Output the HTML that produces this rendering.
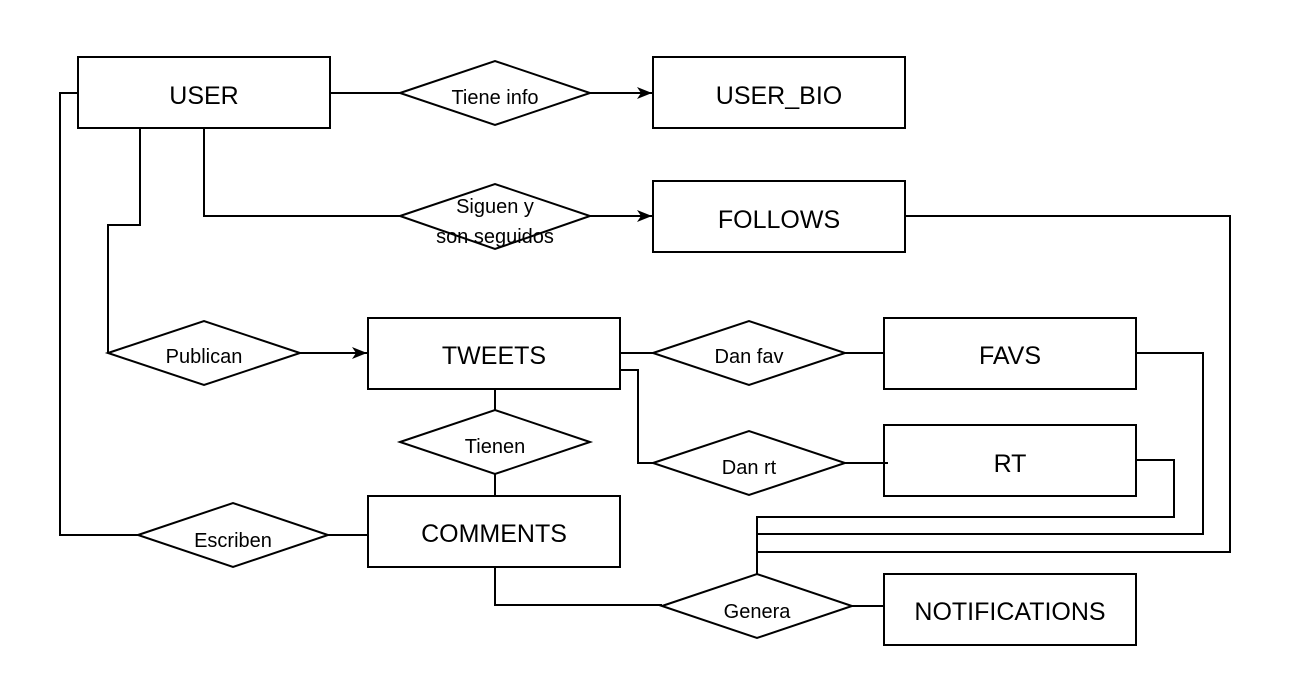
<!DOCTYPE html>
<html><head><meta charset="utf-8"><style>
html,body{margin:0;padding:0;background:#fff;}
svg{display:block;}
text{font-family:"Liberation Sans",Arial,sans-serif;fill:#000;}
.b{font-size:25px;}
.d{font-size:20px;}
</style></head><body>
<svg width="1291" height="699" viewBox="0 0 1291 699" xmlns="http://www.w3.org/2000/svg">
<defs><marker id="a" markerWidth="16" markerHeight="14" refX="15" refY="7" orient="auto" markerUnits="userSpaceOnUse"><path d="M0,1 L15,7 L0,13 L4,7 z" fill="#000"/></marker></defs>
<g fill="none" stroke="#000" stroke-width="2">
<path d="M330,93 H400"/>
<path d="M590,93 H652" marker-end="url(#a)"/>
<path d="M204,128 V216 H400"/>
<path d="M590,216 H652" marker-end="url(#a)"/>
<path d="M140,128 V225 H108 V353"/>
<path d="M300,353 H367" marker-end="url(#a)"/>
<path d="M620,353 H653"/>
<path d="M845,353 H884"/>
<path d="M620,370 H638 V463 H653"/>
<path d="M845,463 H888"/>
<path d="M495,389 V410"/>
<path d="M495,474 V496"/>
<path d="M328,535 H368"/>
<path d="M138,535 H60 V93 H78"/>
<path d="M495,567 V605 H662"/>
<path d="M852,606 H884"/>
<path d="M905,216 H1230 V552 H757"/>
<path d="M1136,353 H1203 V534 H757"/>
<path d="M1136,460 H1174 V517 H757 V574"/>
<rect x="78" y="57" width="252" height="71"/>
<rect x="653" y="57" width="252" height="71"/>
<rect x="653" y="181" width="252" height="71"/>
<rect x="368" y="318" width="252" height="71"/>
<rect x="884" y="318" width="252" height="71"/>
<rect x="884" y="425" width="252" height="71"/>
<rect x="368" y="496" width="252" height="71"/>
<rect x="884" y="574" width="252" height="71"/>
<polygon points="400,93 495,61 590,93 495,125" fill="#fff"/>
<polygon points="400,216 495,184 590,216 495,249" fill="#fff"/>
<polygon points="108,353 204,321 300,353 204,385" fill="#fff"/>
<polygon points="653,353 749,321 845,353 749,385" fill="#fff"/>
<polygon points="653,463 749,431 845,463 749,495" fill="#fff"/>
<polygon points="400,442 495,410 590,442 495,474" fill="#fff"/>
<polygon points="138,535 233,503 328,535 233,567" fill="#fff"/>
<polygon points="662,606 757,574 852,606 757,638" fill="#fff"/>
</g>
<g text-anchor="middle">
<text class="b" x="204" y="104">USER</text>
<text class="b" x="779" y="104">USER_BIO</text>
<text class="b" x="779" y="228">FOLLOWS</text>
<text class="b" x="494" y="364">TWEETS</text>
<text class="b" x="1010" y="364">FAVS</text>
<text class="b" x="1010" y="472">RT</text>
<text class="b" x="494" y="542">COMMENTS</text>
<text class="b" x="1010" y="620">NOTIFICATIONS</text>
<text class="d" x="495" y="104">Tiene info</text>
<text class="d" x="495" y="213">Siguen y</text>
<text class="d" x="495" y="243">son seguidos</text>
<text class="d" x="204" y="363">Publican</text>
<text class="d" x="749" y="363">Dan fav</text>
<text class="d" x="749" y="474">Dan rt</text>
<text class="d" x="495" y="453">Tienen</text>
<text class="d" x="233" y="547">Escriben</text>
<text class="d" x="757" y="618">Genera</text>
</g>
</svg>
</body></html>
